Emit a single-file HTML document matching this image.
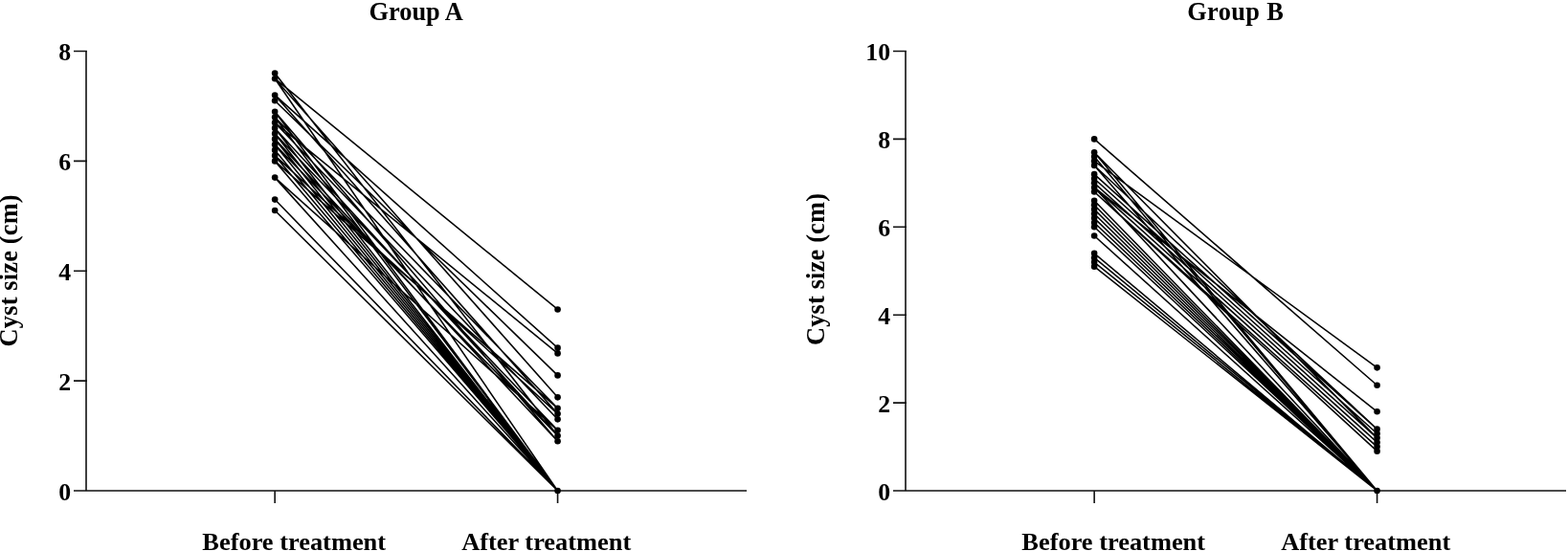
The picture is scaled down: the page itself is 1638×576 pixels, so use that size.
<!DOCTYPE html>
<html lang="en">
<head>
<meta charset="utf-8">
<title>Cyst size before and after treatment</title>
<style>
html,body{margin:0;padding:0;background:#fff;}
body{width:1638px;height:576px;overflow:hidden;}
svg{display:block;}
svg text{font-family:"Liberation Serif",serif;font-weight:bold;font-size:26.4px;fill:#000;}
</style>
</head>
<body>
<svg width="1638" height="576" viewBox="0 0 1638 576">
<rect width="1638" height="576" fill="#fff"/>
<path d="M90,53.5 V513.0 M77,513.0 H780" fill="none" stroke="#111" stroke-width="1.6"/>
<path d="M77,398.12 H90.9 M77,283.25 H90.9 M77,168.38 H90.9 M77,53.50 H90.9 M287.14,513.0 V526.0 M582.56,513.0 V526.0" fill="none" stroke="#111" stroke-width="1.6"/>
<text x="74.1" y="522.70" text-anchor="end" style="font-size:25.8px">0</text>
<text x="74.1" y="407.82" text-anchor="end" style="font-size:25.8px">2</text>
<text x="74.1" y="292.95" text-anchor="end" style="font-size:25.8px">4</text>
<text x="74.1" y="178.07" text-anchor="end" style="font-size:25.8px">6</text>
<text x="74.1" y="63.20" text-anchor="end" style="font-size:25.8px">8</text>
<path d="M287.14,76.48 L582.56,455.56 M287.14,82.22 L582.56,323.46 M287.14,82.22 L582.56,415.36 M287.14,82.22 L582.56,513.00 M287.14,99.45 L582.56,363.66 M287.14,99.45 L582.56,432.59 M287.14,105.19 L582.56,392.38 M287.14,116.68 L582.56,461.31 M287.14,116.68 L582.56,513.00 M287.14,122.43 L582.56,426.84 M287.14,122.43 L582.56,513.00 M287.14,128.17 L582.56,369.41 M287.14,128.17 L582.56,438.33 M287.14,133.91 L582.56,455.56 M287.14,133.91 L582.56,513.00 M287.14,139.66 L582.56,449.82 M287.14,139.66 L582.56,513.00 M287.14,145.40 L582.56,461.31 M287.14,145.40 L582.56,513.00 M287.14,151.14 L582.56,455.56 M287.14,151.14 L582.56,513.00 M287.14,156.89 L582.56,513.00 M287.14,162.63 L582.56,432.59 M287.14,162.63 L582.56,513.00 M287.14,168.38 L582.56,426.84 M287.14,168.38 L582.56,513.00 M287.14,185.61 L582.56,449.82 M287.14,185.61 L582.56,513.00 M287.14,208.58 L582.56,513.00 M287.14,220.07 L582.56,513.00 " fill="none" stroke="#000" stroke-width="1.55"/>
<circle cx="287.14" cy="220.07" r="3.3" fill="#000"/>
<circle cx="287.14" cy="208.58" r="3.3" fill="#000"/>
<circle cx="287.14" cy="185.61" r="3.3" fill="#000"/>
<circle cx="287.14" cy="168.38" r="3.3" fill="#000"/>
<circle cx="287.14" cy="162.63" r="3.3" fill="#000"/>
<circle cx="287.14" cy="156.89" r="3.3" fill="#000"/>
<circle cx="287.14" cy="151.14" r="3.3" fill="#000"/>
<circle cx="287.14" cy="145.40" r="3.3" fill="#000"/>
<circle cx="287.14" cy="139.66" r="3.3" fill="#000"/>
<circle cx="287.14" cy="133.91" r="3.3" fill="#000"/>
<circle cx="287.14" cy="128.17" r="3.3" fill="#000"/>
<circle cx="287.14" cy="122.43" r="3.3" fill="#000"/>
<circle cx="287.14" cy="116.68" r="3.3" fill="#000"/>
<circle cx="287.14" cy="105.19" r="3.3" fill="#000"/>
<circle cx="287.14" cy="99.45" r="3.3" fill="#000"/>
<circle cx="287.14" cy="82.22" r="3.3" fill="#000"/>
<circle cx="287.14" cy="76.48" r="3.3" fill="#000"/>
<circle cx="582.56" cy="513.00" r="3.3" fill="#000"/>
<circle cx="582.56" cy="461.31" r="3.3" fill="#000"/>
<circle cx="582.56" cy="455.56" r="3.3" fill="#000"/>
<circle cx="582.56" cy="449.82" r="3.3" fill="#000"/>
<circle cx="582.56" cy="438.33" r="3.3" fill="#000"/>
<circle cx="582.56" cy="432.59" r="3.3" fill="#000"/>
<circle cx="582.56" cy="426.84" r="3.3" fill="#000"/>
<circle cx="582.56" cy="415.36" r="3.3" fill="#000"/>
<circle cx="582.56" cy="392.38" r="3.3" fill="#000"/>
<circle cx="582.56" cy="369.41" r="3.3" fill="#000"/>
<circle cx="582.56" cy="363.66" r="3.3" fill="#000"/>
<circle cx="582.56" cy="323.46" r="3.3" fill="#000"/>
<text transform="translate(434.7,20.7) scale(1.005,1.06)" text-anchor="middle" style="font-size:26.2px;letter-spacing:0px">Group A</text>
<text transform="translate(307.2,575.3) scale(1,0.965)" text-anchor="middle">Before treatment</text>
<text transform="translate(570.7,575.3) scale(1,0.965)" text-anchor="middle">After treatment</text>
<text transform="translate(18.400000000000006,282.8) rotate(-90)" text-anchor="middle" style="letter-spacing:0.17px">Cyst size (cm)</text>
<path d="M946,53.5 V513.0 M933,513.0 H1636" fill="none" stroke="#111" stroke-width="1.6"/>
<path d="M933,421.10 H946.9 M933,329.20 H946.9 M933,237.30 H946.9 M933,145.40 H946.9 M933,53.50 H946.9 M1143.14,513.0 V526.0 M1438.56,513.0 V526.0" fill="none" stroke="#111" stroke-width="1.6"/>
<text x="930.1" y="522.70" text-anchor="end" style="font-size:25.8px">0</text>
<text x="930.1" y="430.80" text-anchor="end" style="font-size:25.8px">2</text>
<text x="930.1" y="338.90" text-anchor="end" style="font-size:25.8px">4</text>
<text x="930.1" y="247.00" text-anchor="end" style="font-size:25.8px">6</text>
<text x="930.1" y="155.10" text-anchor="end" style="font-size:25.8px">8</text>
<text x="930.1" y="63.20" text-anchor="end" style="font-size:25.8px">10</text>
<path d="M1143.14,145.40 L1438.56,402.72 M1143.14,159.18 L1438.56,457.86 M1143.14,159.18 L1438.56,513.00 M1143.14,163.78 L1438.56,513.00 M1143.14,168.38 L1438.56,384.34 M1143.14,172.97 L1438.56,448.67 M1143.14,172.97 L1438.56,513.00 M1143.14,182.16 L1438.56,448.67 M1143.14,186.75 L1438.56,453.26 M1143.14,191.35 L1438.56,457.86 M1143.14,195.94 L1438.56,430.29 M1143.14,195.94 L1438.56,462.45 M1143.14,195.94 L1438.56,513.00 M1143.14,200.54 L1438.56,467.05 M1143.14,200.54 L1438.56,471.64 M1143.14,209.73 L1438.56,513.00 M1143.14,214.32 L1438.56,513.00 M1143.14,218.92 L1438.56,513.00 M1143.14,223.51 L1438.56,513.00 M1143.14,228.11 L1438.56,513.00 M1143.14,232.70 L1438.56,513.00 M1143.14,237.30 L1438.56,513.00 M1143.14,246.49 L1438.56,513.00 M1143.14,264.87 L1438.56,513.00 M1143.14,269.47 L1438.56,513.00 M1143.14,274.06 L1438.56,513.00 M1143.14,278.65 L1438.56,513.00 " fill="none" stroke="#000" stroke-width="1.55"/>
<circle cx="1143.14" cy="278.65" r="3.3" fill="#000"/>
<circle cx="1143.14" cy="274.06" r="3.3" fill="#000"/>
<circle cx="1143.14" cy="269.47" r="3.3" fill="#000"/>
<circle cx="1143.14" cy="264.87" r="3.3" fill="#000"/>
<circle cx="1143.14" cy="246.49" r="3.3" fill="#000"/>
<circle cx="1143.14" cy="237.30" r="3.3" fill="#000"/>
<circle cx="1143.14" cy="232.70" r="3.3" fill="#000"/>
<circle cx="1143.14" cy="228.11" r="3.3" fill="#000"/>
<circle cx="1143.14" cy="223.51" r="3.3" fill="#000"/>
<circle cx="1143.14" cy="218.92" r="3.3" fill="#000"/>
<circle cx="1143.14" cy="214.32" r="3.3" fill="#000"/>
<circle cx="1143.14" cy="209.73" r="3.3" fill="#000"/>
<circle cx="1143.14" cy="200.54" r="3.3" fill="#000"/>
<circle cx="1143.14" cy="195.94" r="3.3" fill="#000"/>
<circle cx="1143.14" cy="191.35" r="3.3" fill="#000"/>
<circle cx="1143.14" cy="186.75" r="3.3" fill="#000"/>
<circle cx="1143.14" cy="182.16" r="3.3" fill="#000"/>
<circle cx="1143.14" cy="172.97" r="3.3" fill="#000"/>
<circle cx="1143.14" cy="168.38" r="3.3" fill="#000"/>
<circle cx="1143.14" cy="163.78" r="3.3" fill="#000"/>
<circle cx="1143.14" cy="159.18" r="3.3" fill="#000"/>
<circle cx="1143.14" cy="145.40" r="3.3" fill="#000"/>
<circle cx="1438.56" cy="513.00" r="3.3" fill="#000"/>
<circle cx="1438.56" cy="471.64" r="3.3" fill="#000"/>
<circle cx="1438.56" cy="467.05" r="3.3" fill="#000"/>
<circle cx="1438.56" cy="462.45" r="3.3" fill="#000"/>
<circle cx="1438.56" cy="457.86" r="3.3" fill="#000"/>
<circle cx="1438.56" cy="453.26" r="3.3" fill="#000"/>
<circle cx="1438.56" cy="448.67" r="3.3" fill="#000"/>
<circle cx="1438.56" cy="430.29" r="3.3" fill="#000"/>
<circle cx="1438.56" cy="402.72" r="3.3" fill="#000"/>
<circle cx="1438.56" cy="384.34" r="3.3" fill="#000"/>
<text transform="translate(1290.7,20.7) scale(1.005,1.06)" text-anchor="middle" style="font-size:26.2px;letter-spacing:0.4px">Group B</text>
<text transform="translate(1163.2,575.3) scale(1,0.965)" text-anchor="middle">Before treatment</text>
<text transform="translate(1426.7,575.3) scale(1,0.965)" text-anchor="middle">After treatment</text>
<text transform="translate(861.2,281.5) rotate(-90)" text-anchor="middle" style="letter-spacing:0.17px">Cyst size (cm)</text>
</svg>
</body>
</html>
